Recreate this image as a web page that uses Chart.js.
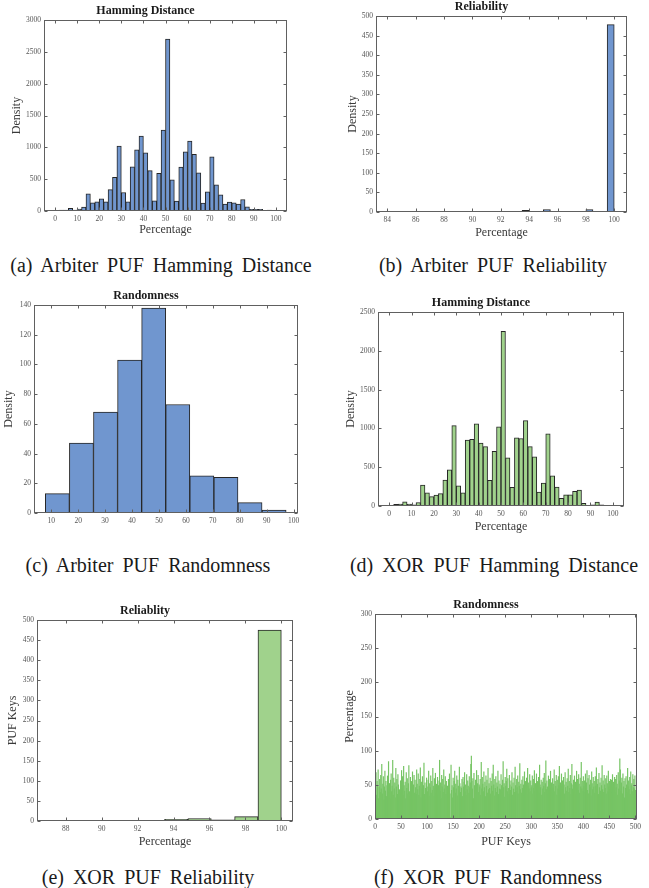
<!DOCTYPE html>
<html><head><meta charset="utf-8">
<script src="https://cdn.jsdelivr.net/npm/chart.js@4.4.0/dist/chart.umd.min.js"></script>
<style>
body{margin:0;background:#fff;width:649px;height:888px;position:relative;overflow:hidden;font-family:'Liberation Serif',serif;}
.cv{position:absolute;}
.cap{position:absolute;transform:translate(-50%,-50%);white-space:nowrap;font-size:20px;color:#1a1a1a;word-spacing:4px;}
</style></head><body>
<script>
// ---------------- DATA ----------------
const hdBinCenters = [1,3,5,7,9,11,13,15,17,19,21,23,25,27,29,31,33,35,37,39,41,43,45,47,49,51,53,55,57,59,61,63,65,67,69,71,73,75,77,79,81,83,85,87,89,91,93,95,97,99];
const arbHammingCounts = [10,15,15,40,15,30,60,270,130,145,190,145,335,530,1020,290,145,695,960,1175,915,635,160,590,1270,2700,490,155,690,930,1100,890,600,125,300,850,410,255,110,140,130,110,180,65,25,25,25,10,15,10];
const xorHammingCounts = [10,20,25,55,25,15,45,270,170,120,140,160,335,465,1035,260,170,850,860,1060,810,765,330,705,1020,2250,620,240,880,870,1100,765,635,180,295,930,390,245,100,145,145,190,205,35,10,15,50,15,10,5];

const arbRelBinCenters = [84.25,84.75,85.25,85.75,86.25,86.75,87.25,87.75,88.25,88.75,89.25,89.75,90.25,90.75,91.25,91.75,92.25,92.75,93.25,93.75,94.25,94.75,95.25,95.75,96.25,96.75,97.25,97.75,98.25,98.75,99.25,99.75];
const arbRelCounts = [1,0,0,0,0,0,0,1,0,0,0,0,0,0,0,0,1,0,0,4,0,0,6,0,0,1,0,0,6,0,0,478];

const arbRandBinCenters = [12.27,21.21,30.15,39.09,48.03,56.97,65.91,74.85,83.79,92.73];
const arbRandCounts = [13,47,68,103,138,73,25,24,7,2];

const xorRelBinCenters = [87.65,88.95,90.25,91.55,92.85,94.15,95.45,96.75,98.05,99.35];
const xorRelCounts = [1,0,0,1,0,4,6,3,11,475];

const xorRandValues = [
42,68,35,55,48,72,30,46,58,39,64,44,80,37,51,62,28,47,70,41,
55,33,49,63,45,84,38,52,29,57,66,40,48,86,35,60,44,53,31,74,
47,58,36,65,50,27,43,8,56,39,71,46,62,34,77,49,41,54,30,68,
45,59,37,52,78,40,33,61,47,55,42,69,29,50,64,38,57,46,36,72,
51,43,66,35,48,58,75,31,54,44,62,39,49,82,36,53,45,28,60,47,
40,57,70,34,52,46,63,38,55,42,74,48,33,59,44,67,37,51,45,61,
35,49,56,86,41,53,30,64,47,58,39,72,44,50,62,36,55,48,48,40,
58,45,66,37,2,79,42,49,31,60,46,55,70,38,51,44,63,34,57,48,
41,76,52,39,47,45,58,33,61,47,54,68,40,50,35,65,43,56,48,38,
62,46,53,80,92,55,44,59,30,67,49,42,57,36,71,45,52,64,39,50,
47,58,35,83,44,61,51,40,69,46,54,33,63,48,57,38,74,43,52,45,
60,37,55,48,66,41,79,50,34,58,45,62,39,53,47,70,36,56,44,51,
43,65,49,38,57,84,46,52,32,61,48,55,73,40,59,45,36,64,50,42,
56,47,68,35,53,44,60,39,76,49,41,58,46,63,37,54,48,81,43,51,
38,57,45,62,50,34,69,47,55,42,60,36,74,48,53,44,65,40,56,46,
49,63,37,58,45,71,41,52,30,66,47,55,43,61,38,79,50,46,57,35,
54,44,60,48,67,39,52,85,43,56,47,36,63,50,58,41,70,45,53,38,
59,46,51,72,40,55,48,64,35,57,44,62,49,77,42,53,38,66,47,56,
43,61,50,37,68,46,54,41,59,48,73,39,55,45,64,36,52,80,44,50,
57,40,63,49,54,35,70,46,58,42,65,51,38,60,47,83,44,55,41,62,
48,56,39,66,45,53,71,42,59,37,64,50,46,57,34,69,52,43,61,47,
55,38,62,48,75,44,51,58,36,67,46,53,41,60,49,78,43,56,39,64,
50,45,59,37,63,52,40,70,47,55,43,58,49,57,38,65,46,54,42,61,
39,58,46,64,51,35,68,44,56,88,72,41,53,60,37,66,47,55,31,59,
45,62,50,38,74,47,56,43,61,36,69,49,52,40,65,46,58,44,63,42];
const xorRandKeys = xorRandValues.map((v, i) => i + 1);

// tick labels
const hdXTicks = [0,10,20,30,40,50,60,70,80,90,100];
const arbHdYTicks = [0,500,1000,1500,2000,2500,3000];
const arbRelXTicks = [84,86,88,90,92,94,96,98,100];
const relYTicks = [0,50,100,150,200,250,300,350,400,450,500];
const randXTicks = [10,20,30,40,50,60,70,80,90,100];
const randYTicks = [0,20,40,60,80,100,120,140];
const xorHdYTicks = [0,500,1000,1500,2000,2500];
const xorRelXTicks = [88,90,92,94,96,98,100];
const keysXTicks = [0,50,100,150,200,250,300,350,400,450,500];
const pctYTicks = [0,50,100,150,200,250,300];

// ---------------- STYLE / LAYOUT ----------------
const FONT = "'Liberation Serif', 'Times New Roman', serif";
const TICK = '#555';
const LAB = '#3a3a3a';
const BLUE = 'rgb(112,150,207)';
const GREEN = 'rgb(160,210,140)';
const GREEN_F = 'rgb(118,196,100)';
const EDGE = '#262626';

const matlabBox = {
  id: 'matlabBox',
  afterDatasetsDraw(chart) {
    const {ctx, chartArea: a, scales: {x, y}} = chart;
    ctx.save();
    ctx.strokeStyle = '#606060';
    ctx.lineWidth = 1;
    const l = Math.round(a.left) + 0.5, r = Math.round(a.right) - 0.5;
    const t = Math.round(a.top) + 0.5, b = Math.round(a.bottom) - 0.5;
    ctx.strokeRect(l, t, r - l, b - t);
    const tl = 3;
    ctx.beginPath();
    x.ticks.forEach(tk => {
      const px = Math.round(x.getPixelForValue(tk.value)) + 0.5;
      ctx.moveTo(px, b); ctx.lineTo(px, b - tl);
      ctx.moveTo(px, t); ctx.lineTo(px, t + tl);
    });
    y.ticks.forEach(tk => {
      const py = Math.round(y.getPixelForValue(tk.value)) + 0.5;
      ctx.moveTo(l, py); ctx.lineTo(l + tl, py);
      ctx.moveTo(r, py); ctx.lineTo(r - tl, py);
    });
    ctx.stroke();
    ctx.restore();
  }
};

function makeChart(p) {
  const W = p.R - p.L + 40 + 14, H = 17 + (p.B - p.T) + p.xh;
  const div = document.createElement('div');
  div.className = 'cv';
  div.style.left = (p.L - 40) + 'px';
  div.style.top = (p.T - 17) + 'px';
  const c = document.createElement('canvas');
  c.width = W; c.height = H;
  c.style.width = W + 'px'; c.style.height = H + 'px';
  div.appendChild(c);
  document.body.appendChild(div);
  new Chart(c, {
    type: 'bar',
    data: {datasets: [{
      data: p.x.map((v, i) => ({x: v, y: p.y[i]})),
      backgroundColor: p.fill, borderColor: p.edge, borderWidth: p.bw,
      borderSkipped: false, barPercentage: 1, categoryPercentage: 1
    }]},
    options: {
      responsive: false, animation: false, devicePixelRatio: 1,
      layout: {padding: {left: 0, top: 0, right: 14, bottom: 0}},
      plugins: {
        legend: {display: false}, tooltip: {enabled: false},
        title: {display: true, text: p.title, color: '#1a1a1a',
          font: {family: FONT, size: 12, weight: 'bold', lineHeight: 1}, padding: {top: 2, bottom: 3}}
      },
      scales: {
        x: {
          type: 'linear', offset: false, min: p.xmin, max: p.xmax,
          grid: {display: false, drawTicks: false}, border: {display: false},
          afterBuildTicks: s => { s.ticks = p.xt.map(v => ({value: v})); },
          afterFit: s => { s.height = p.xh; },
          ticks: {font: {family: FONT, size: 7.5, lineHeight: 1}, color: TICK, padding: 4,
            maxRotation: 0, minRotation: 0, autoSkip: false, callback: v => String(v)},
          title: {display: !!p.xlabel, text: p.xlabel || '', color: LAB,
            font: {family: FONT, size: 12, lineHeight: 1}, padding: {top: 0, bottom: p.xtp || 0}}
        },
        y: {
          type: 'linear', min: p.ymin, max: p.ymax,
          grid: {display: false, drawTicks: false}, border: {display: false},
          afterBuildTicks: s => { s.ticks = p.yt.map(v => ({value: v})); },
          afterFit: s => { s.width = 40; },
          ticks: {font: {family: FONT, size: 7.5, lineHeight: 1}, color: TICK, padding: 3,
            autoSkip: false, callback: v => String(v)},
          title: {display: true, text: p.ylabel, color: LAB,
            font: {family: FONT, size: 12, lineHeight: 1}, padding: {top: p.ytp, bottom: 0}}
        }
      }
    },
    plugins: [matlabBox]
  });
}

makeChart({L: 44, R: 287, T: 20, B: 211, xh: 30, xtp: 5, ytp: 7,
  x: hdBinCenters, y: arbHammingCounts, fill: BLUE, edge: EDGE, bw: 1,
  title: 'Hamming Distance', xlabel: 'Percentage', ylabel: 'Density',
  xmin: -5, xmax: 105, xt: hdXTicks, ymin: 0, ymax: 3000, yt: arbHdYTicks});

makeChart({L: 376, R: 627, T: 16, B: 212, xh: 30, xtp: 3, ytp: 11,
  x: arbRelBinCenters, y: arbRelCounts, fill: BLUE, edge: EDGE, bw: 1,
  title: 'Reliability', xlabel: 'Percentage', ylabel: 'Density',
  xmin: 83.2, xmax: 100.9, xt: arbRelXTicks, ymin: 0, ymax: 500, yt: relYTicks});

makeChart({L: 34, R: 298, T: 305, B: 513, xh: 30, ytp: 9,
  x: arbRandBinCenters, y: arbRandCounts, fill: BLUE, edge: EDGE, bw: 1,
  title: 'Randomness', xlabel: '', ylabel: 'Density',
  xmin: 3.6, xmax: 101.6, xt: randXTicks, ymin: 0, ymax: 140, yt: randYTicks});

makeChart({L: 378, R: 624, T: 312, B: 506, xh: 30, xtp: 3, ytp: 7,
  x: hdBinCenters, y: xorHammingCounts, fill: GREEN, edge: EDGE, bw: 1,
  title: 'Hamming Distance', xlabel: 'Percentage', ylabel: 'Density',
  xmin: -5, xmax: 105, xt: hdXTicks, ymin: 0, ymax: 2500, yt: xorHdYTicks});

makeChart({L: 37, R: 293, T: 620, B: 821, xh: 30, xtp: 3, ytp: 10,
  x: xorRelBinCenters, y: xorRelCounts, fill: GREEN, edge: EDGE, bw: 1,
  title: 'Reliablity', xlabel: 'Percentage', ylabel: 'PUF Keys',
  xmin: 86.4, xmax: 100.65, xt: xorRelXTicks, ymin: 0, ymax: 500, yt: relYTicks});

makeChart({L: 375, R: 637, T: 614, B: 819, xh: 30, xtp: 1, ytp: 9,
  x: xorRandKeys, y: xorRandValues, fill: GREEN_F, edge: GREEN_F, bw: 0,
  title: 'Randomness', xlabel: 'PUF Keys', ylabel: 'Percentage',
  xmin: 0, xmax: 503, xt: keysXTicks, ymin: 0, ymax: 300, yt: pctYTicks});

// captions
const captions = [
  ['(a) Arbiter PUF Hamming Distance', 161, 265],
  ['(b) Arbiter PUF Reliability', 493, 265],
  ['(c) Arbiter PUF Randomness', 148, 565],
  ['(d) XOR PUF Hamming Distance', 494, 565],
  ['(e) XOR PUF Reliability', 148, 877],
  ['(f) XOR PUF Randomness', 488, 877]
];
captions.forEach(([t, x, y]) => {
  const d = document.createElement('div');
  d.className = 'cap';
  d.textContent = t;
  d.style.left = x + 'px';
  d.style.top = y + 'px';
  document.body.appendChild(d);
});
</script>
</body></html>
